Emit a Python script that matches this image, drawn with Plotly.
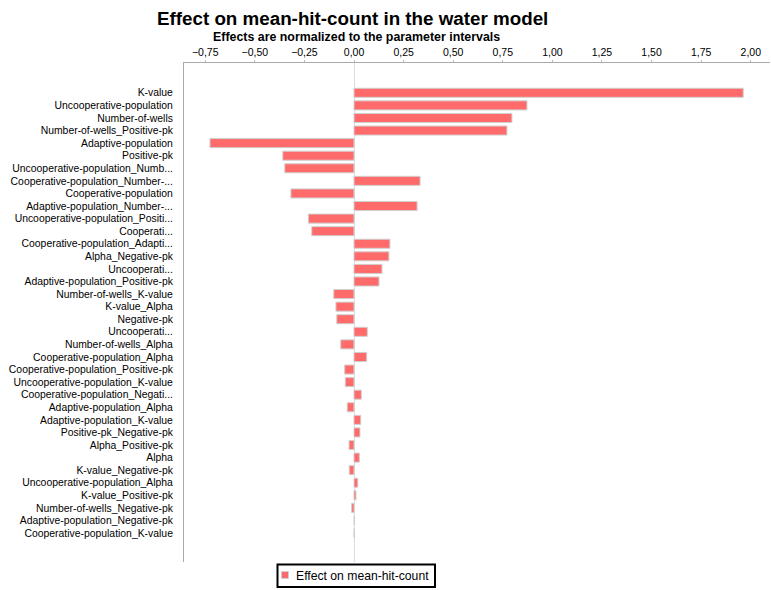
import plotly.graph_objects as go

categories = [
    "K-value", "Uncooperative-population", "Number-of-wells", "Number-of-wells_Positive-pk",
    "Adaptive-population", "Positive-pk", "Uncooperative-population_Numb...",
    "Cooperative-population_Number-...", "Cooperative-population", "Adaptive-population_Number-...",
    "Uncooperative-population_Positi...", "Cooperati...", "Cooperative-population_Adapti...",
    "Alpha_Negative-pk", "Uncooperati...", "Adaptive-population_Positive-pk",
    "Number-of-wells_K-value", "K-value_Alpha", "Negative-pk", "Uncooperati...",
    "Number-of-wells_Alpha", "Cooperative-population_Alpha", "Cooperative-population_Positive-pk",
    "Uncooperative-population_K-value", "Cooperative-population_Negati...", "Adaptive-population_Alpha",
    "Adaptive-population_K-value", "Positive-pk_Negative-pk", "Alpha_Positive-pk", "Alpha",
    "K-value_Negative-pk", "Uncooperative-population_Alpha", "K-value_Positive-pk",
    "Number-of-wells_Negative-pk", "Adaptive-population_Negative-pk", "Cooperative-population_K-value",
]
effects = [
    1.962, 0.872, 0.796, 0.771,
    -0.726, -0.359, -0.349,
    0.333, -0.318, 0.318,
    -0.230, -0.213, 0.181,
    0.176, 0.141, 0.126,
    -0.102, -0.091, -0.087, 0.067,
    -0.067, 0.064, -0.047,
    -0.044, 0.037, -0.034,
    0.034, 0.030, -0.025, 0.027,
    -0.024, 0.019, 0.010,
    -0.012, 0.002, 0.001,
]
tick_values = [-0.75, -0.5, -0.25, 0.0, 0.25, 0.5, 0.75, 1.0, 1.25, 1.5, 1.75, 2.0]
series_name = "Effect on mean-hit-count"
bar_color = "#ff6b6b"

W, H = 771, 590
L, R, T, B = 184, 1, 63, 28
PW, PH = W - L - R, H - T - B


def px(x):
    return (x - L) / PW


def py(y):
    return (H - B - y) / PH


fig = go.Figure()
fig.add_trace(go.Bar(
    x=effects,
    y=list(range(len(categories))),
    orientation="h",
    width=0.72,
    marker=dict(color=bar_color, line=dict(color="#d0d0d0", width=1)),
    name=series_name,
    showlegend=False,
))

fig.update_layout(
    width=W, height=H,
    margin=dict(l=L, r=R, t=T, b=B, autoexpand=False),
    plot_bgcolor="white", paper_bgcolor="white",
    separators=",.",
    font=dict(family="Liberation Sans, Arial, sans-serif", size=11, color="#000"),
    showlegend=False,
)
fig.update_xaxes(
    side="top",
    range=[-0.857, 2.097],
    tickvals=tick_values,
    tickformat=".2f",
    ticks="outside", ticklen=2, tickcolor="#bbb",
    showgrid=False,
    zeroline=True, zerolinecolor="#dcdcdc", zerolinewidth=1,
    showline=True, linecolor="#aaa", linewidth=1,
    tickfont=dict(size=10.5),
    automargin=False,
)
fig.update_yaxes(
    range=[37.3, -2.37],
    tickvals=list(range(len(categories))),
    ticktext=categories,
    showgrid=False,
    zeroline=False,
    showline=True, linecolor="#aaa", linewidth=1,
    ticks="", ticklabelstandoff=8,
    tickfont=dict(size=10.4),
    automargin=False,
)
fig.add_annotation(
    text="<b>Effect on mean-hit-count in the water model</b>",
    xref="paper", yref="paper",
    x=px(352), y=py(18),
    xanchor="center", yanchor="middle",
    showarrow=False, font=dict(size=18.8, color="#000"),
)
fig.add_annotation(
    text="<b>Effects are normalized to the parameter intervals</b>",
    xref="paper", yref="paper",
    x=px(356), y=py(37),
    xanchor="center", yanchor="middle",
    showarrow=False, font=dict(size=12.4, color="#000"),
)

# legend box (drawn as layout decoration)
fig.add_shape(
    type="rect", xref="paper", yref="paper",
    x0=px(277.5), x1=px(435), y0=py(587), y1=py(564.5),
    line=dict(color="#000", width=2), fillcolor="white", layer="above",
)
fig.add_shape(
    type="rect", xref="paper", yref="paper",
    x0=px(281.5), x1=px(288.5), y0=py(578.5), y1=py(571.5),
    line=dict(color="#d0d0d0", width=1), fillcolor=bar_color, layer="above",
)
fig.add_annotation(
    text=series_name,
    xref="paper", yref="paper",
    x=px(294), y=py(575.5),
    xanchor="left", yanchor="middle",
    showarrow=False, font=dict(size=12.2, color="#000"),
)

fig.write_html("out.html")
